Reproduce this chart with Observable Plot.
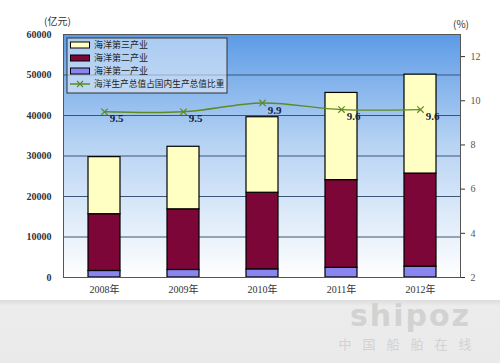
<!DOCTYPE html>
<html><head><meta charset="utf-8">
<script src="https://cdn.jsdelivr.net/npm/d3@7"></script>
<script src="https://cdn.jsdelivr.net/npm/@observablehq/plot@0.6"></script>
<style>
body{margin:0;background:#fff;width:500px;height:363px;overflow:hidden;font-family:"Liberation Serif","Noto Sans CJK SC",serif;}
#wrap{position:relative;width:500px;height:300px;}
#band{position:absolute;left:0;top:300px;width:500px;height:63px;background:linear-gradient(#dcdcdc,#ececec 6px,#eaeaea);}
.unit{position:absolute;font-size:10px;color:#333;font-family:"Noto Sans CJK SC",serif;}
#wm{position:absolute;left:328px;top:300px;width:165px;text-align:center;color:#d2d2d2;font-family:"DejaVu Sans",sans-serif;}
</style></head><body>
<div id="wrap"></div>
<div id="band"></div>
<script>
const years = ["2008年","2009年","2010年","2011年","2012年"];
const primary = [1608,1858,2008,2382,2683];
const secondary = [14026,14980,18919,21667,22982];
const tertiary = [14085,15439,18645,21522,24422];
const share = [9.5,9.5,9.9,9.6,9.6];
const seriesNames = ["海洋第一产业","海洋第二产业","海洋第三产业"];
const seriesColors = ["#8a86f0","#7c0637","#ffffc4"];
const lineName = "海洋生产总值占国内生产总值比重";
const leftTicks = [0,10000,20000,30000,40000,50000,60000];
const rightTicks = [2,4,6,8,10,12];
const yDomain = [0,60000];
const shareDomain = [2,13];

const toY = p => (p - shareDomain[0]) / (shareDomain[1] - shareDomain[0]) * yDomain[1];
const fromY = v => v / yDomain[1] * (shareDomain[1] - shareDomain[0]) + shareDomain[0];

const bars = [];
years.forEach((yr, i) => {
  [primary, secondary, tertiary].forEach((arr, k) => bars.push({year: yr, series: seriesNames[k], value: arr[i]}));
});
const pts = years.map((yr, i) => ({year: yr, share: share[i]}));
const lineColor = "#5f8a22";

const chart = Plot.plot({
  width: 500, height: 300,
  marginLeft: 63, marginRight: 40, marginTop: 34, marginBottom: 23,
  style: {fontFamily: '"Liberation Serif","Noto Sans CJK SC",serif', fontSize: "10px", color: "#333", background: "transparent"},
  x: {domain: years, paddingInner: 0.6, paddingOuter: 0.3, label: null},
  y: {domain: yDomain, label: null},
  color: {domain: seriesNames, range: seriesColors},
  marks: [
    Plot.frame({fill: "url(#bggrad)"}),
    Plot.ruleY(leftTicks, {stroke: "#3d5578", strokeWidth: 1}),
    Plot.barY(bars, {x: "year", y: "value", fill: "series", stroke: "#000", strokeWidth: 1.2, inset: 0}),
    Plot.line(pts, {x: "year", y: d => toY(d.share), stroke: lineColor, strokeWidth: 1.4, curve: "catmull-rom"}),
    Plot.dot(pts, {x: "year", y: d => toY(d.share), symbol: "times", r: 3, stroke: lineColor, strokeWidth: 1.2}),
    Plot.text(pts, {x: "year", y: d => toY(d.share), text: d => d.share.toFixed(1), dx: 12, dy: 7, fill: "#14213d", fontWeight: "bold", fontSize: 11}),
    Plot.axisY({anchor: "left", ticks: leftTicks, tickSize: 0, tickPadding: 12, fontWeight: "bold", tickFormat: d => String(d), label: null}),
    Plot.axisY(rightTicks.map(toY), {anchor: "right", tickSize: 4, tickPadding: 6, tickFormat: d => String(Math.round(fromY(d))), label: null, stroke: "#333", fill: "#555"}),
    Plot.axisX({tickSize: 0, tickPadding: 8, label: null}),
    Plot.frame({stroke: "#555", strokeWidth: 1})
  ]
});
const svg = d3.select(chart);
const defs = svg.insert("defs", ":first-child");
const g = defs.append("linearGradient").attr("id", "bggrad").attr("x1", 0).attr("y1", 0).attr("x2", 0).attr("y2", 1);
g.append("stop").attr("offset", "0%").attr("stop-color", "#5c9be6");
g.append("stop").attr("offset", "45%").attr("stop-color", "#b7d3f3");
g.append("stop").attr("offset", "100%").attr("stop-color", "#ffffff");

// legend inside the plot area
const lgx = 67, lgy = 38;
const lg = svg.append("g").attr("transform", `translate(${lgx},${lgy})`).attr("text-anchor", "start");
lg.append("rect").attr("width", 160).attr("height", 55).attr("fill", "rgba(235,242,252,0.55)").attr("stroke", "#333");
const order = [2, 1, 0];
order.forEach((k, j) => {
  const cy = 7 + j * 13;
  lg.append("rect").attr("x", 3.5).attr("y", cy - 3).attr("width", 19).attr("height", 6).attr("fill", seriesColors[k]).attr("stroke", "#000");
  lg.append("text").attr("x", 27).attr("y", cy).attr("dy", "0.35em").attr("font-size", 9).attr("fill", "#222")
    .attr("text-anchor", "start").attr("font-family", '"Noto Sans CJK SC",sans-serif').text(seriesNames[k]);
});
{
  const cy = 7 + 3 * 13;
  lg.append("line").attr("x1", 3).attr("x2", 23).attr("y1", cy).attr("y2", cy).attr("stroke", lineColor).attr("stroke-width", 1.5);
  lg.append("path").attr("d", `M10,${cy-3}L16,${cy+3}M16,${cy-3}L10,${cy+3}`).attr("stroke", lineColor).attr("stroke-width", 1.2);
  lg.append("text").attr("x", 27).attr("y", cy).attr("dy", "0.35em").attr("font-size", 8.7).attr("fill", "#222")
    .attr("text-anchor", "start").attr("font-family", '"Noto Sans CJK SC",sans-serif').text(lineName);
}

const wrap = document.getElementById("wrap");
wrap.appendChild(chart);

function addDiv(cls, text, css) {
  const d = document.createElement("div");
  d.className = cls; d.textContent = text; Object.assign(d.style, css); wrap.appendChild(d); return d;
}
addDiv("unit", "(亿元)", {left: "44px", top: "13px"});
addDiv("unit", "(%)", {left: "453px", top: "16px"});

const wm = document.createElement("div"); wm.id = "wm";
wm.innerHTML = '<div style="font-size:30px;font-weight:bold;letter-spacing:2px;line-height:32px;">shipoz</div><div style="font-size:13px;letter-spacing:11px;margin-top:2px;font-family:\'Noto Sans CJK SC\',sans-serif;">中国船舶在线</div>';
document.body.appendChild(wm);
</script>
</body></html>
